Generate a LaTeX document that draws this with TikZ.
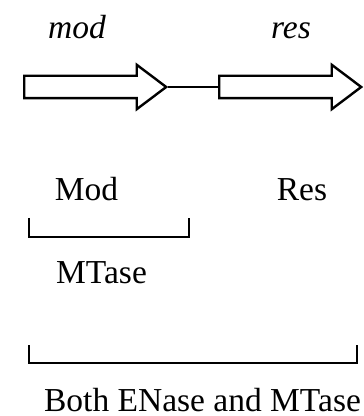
\documentclass[tikz,border=0pt]{standalone}
\usepackage{fontspec}
\setmainfont{Liberation Serif}
\usetikzlibrary{shapes.arrows}

\begin{document}
\begin{tikzpicture}[x=0.5pt, y=-0.5pt, line width=1.2pt,
    every node/.style={font=\fontsize{16.75}{20}\selectfont, inner sep=0pt},
    gene/.style={draw, single arrow, single arrow head extend=5.5pt, single arrow tip angle=74,
      single arrow head indent=0pt, minimum height=71pt, inner xsep=0pt, inner ysep=5pt, anchor=tail}]
        \useasboundingbox (0,0) rectangle (363,416);
        % genes
        \node[gene] (modgene) at (23,87) {};
        \node[gene] (resgene) at (218,87) {};
        \draw (modgene.tip) -- (resgene.tail);
        \node[anchor=base] (modlabel) at (77,39) {\textit{mod}};
        \node[anchor=base] (reslabel) at (291,39) {\textit{res}};
        % proteins
        \node[anchor=base] (modprot) at (86.5,200) {Mod};
        \node[anchor=base] (resprot) at (302,201) {Res};
        \draw (29,218) -- (29,237) -- (189,237) -- (189,218);
        \node[anchor=base] (mtase) at (101.5,283) {MTase};
        \draw (29,345) -- (29,363) -- (357,363) -- (357,345);
        \node[anchor=base] (both) at (202.5,411) {Both ENase and MTase};
      \end{tikzpicture}
\end{document}
